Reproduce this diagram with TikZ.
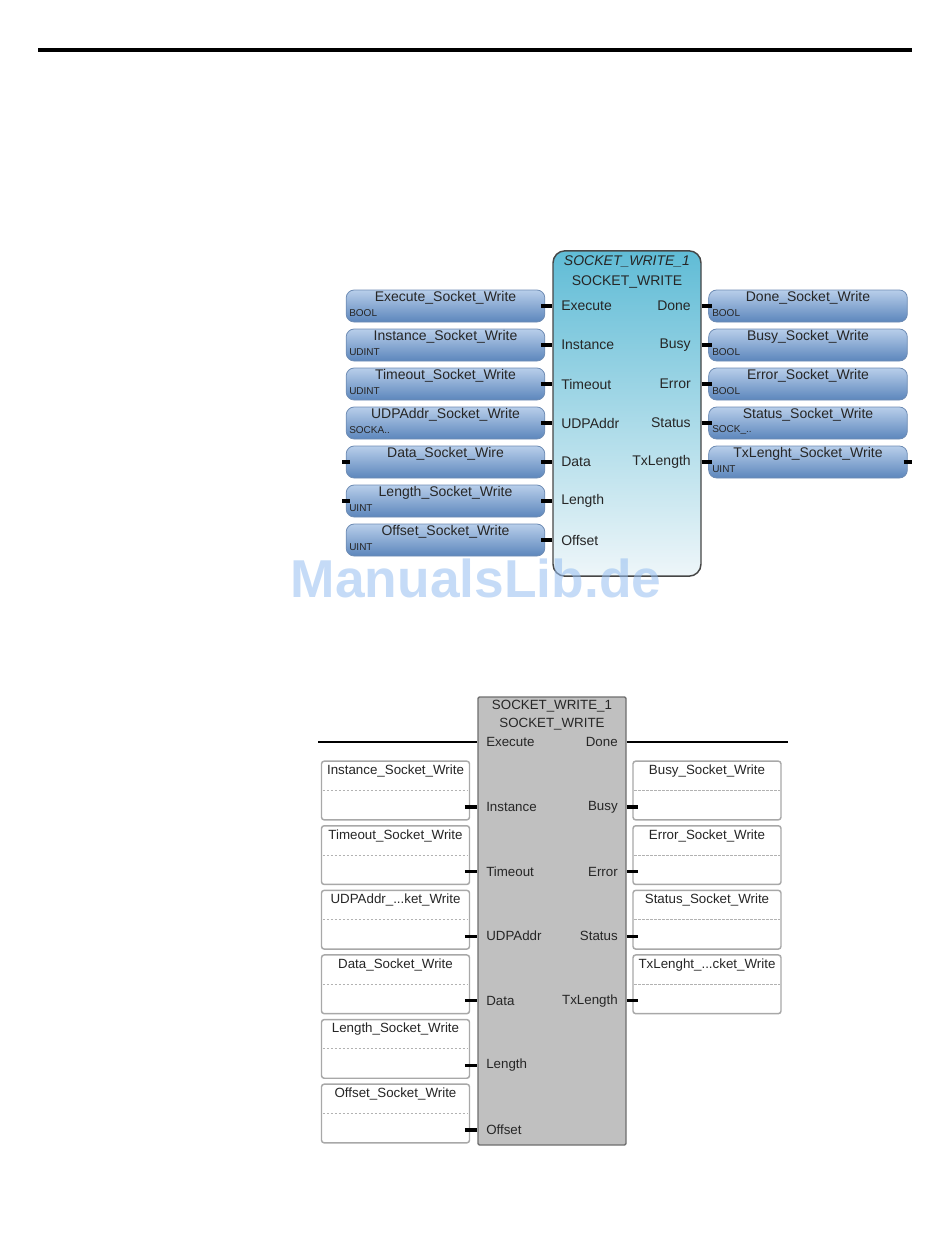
\documentclass[tikz,border=0pt]{standalone}
\usepackage{fontspec}
\setmainfont{Liberation Sans}
\definecolor{uvtop}{RGB}{184,206,234}
\definecolor{uvbot}{RGB}{92,134,188}
\definecolor{uvdraw}{RGB}{110,140,180}
\definecolor{mtop}{RGB}{96,188,214}
\definecolor{mbot}{RGB}{238,246,249}
\definecolor{mdraw}{RGB}{70,70,70}
\definecolor{lgray}{RGB}{192,192,192}
\definecolor{ldraw}{RGB}{110,110,110}
\definecolor{lvdraw}{RGB}{168,168,168}
\definecolor{wmark}{RGB}{150,190,240}
\newcommand\tdots{...}
\begin{document}
\begin{tikzpicture}[x=0.75pt,y=-0.75pt,
  uvar/.style={rectangle, rounded corners=6pt, top color=uvtop, bottom color=uvbot, draw=uvdraw, line width=0.6pt, minimum width=149pt, minimum height=24pt, inner sep=0pt},
  uname/.style={font=\fontsize{10.5}{12}\selectfont, inner sep=0pt, text=black!85},
  utype/.style={font=\fontsize{7.5}{8}\selectfont, inner sep=0pt, anchor=west, text=black!85},
  upin/.style={font=\fontsize{10.5}{12}\selectfont, inner sep=0pt, text=black!85},
  stub/.style={line width=2.3pt, black},
  lvar/.style={rectangle, rounded corners=2pt, fill=white, draw=lvdraw, line width=1.1pt, minimum width=111pt, minimum height=44pt, inner sep=0pt},
  lname/.style={font=\fontsize{10}{12}\selectfont, inner sep=0pt, text=black!85},
  lpin/.style={font=\fontsize{10}{12}\selectfont, inner sep=0pt, text=black!85},
  dline/.style={draw=black!30, line width=0.8pt, dash pattern=on 2pt off 1pt}]
\useasboundingbox (0,0) rectangle (950,1260);
% top rule
\coordinate (tl) at (38,50); \coordinate (tr) at (912,50);
\draw[line width=3pt] (tl) -- (tr);
% ===== upper block =====
\node[rectangle, rounded corners=9pt, top color=mtop, bottom color=mbot, draw=mdraw, line width=1.1pt, minimum width=111pt, minimum height=244pt, inner sep=0pt] (um) at (627,413.5) {};
\node[uname, font=\itshape\fontsize{10.5}{12}\selectfont] (ut1) at (627,261) {SOCKET\_WRITE\_1};
\node[uname] (ut2) at (627,282) {SOCKET\_WRITE};
\foreach \nm/\ty/\pn [count=\i] in {Execute\_Socket\_Write/BOOL/Execute, Instance\_Socket\_Write/UDINT/Instance, Timeout\_Socket\_Write/UDINT/Timeout, UDPAddr\_Socket\_Write/SOCKA../UDPAddr, Data\_Socket\_Wire//Data, Length\_Socket\_Write/UINT/Length, Offset\_Socket\_Write/UINT/Offset}{
  \pgfmathsetmacro\yy{306+39*(\i-1)}
  \node[uvar] (ulv\i) at (445.5,\yy) {};
  \node[uname] (ulvn\i) at (445.5,\yy-8) {\nm};
  \node[utype] (ulvt\i) at (349,\yy+7) {\ty};
  \node[upin, anchor=west] (ulp\i) at (561,\yy) {\pn};
  \draw[stub] ([xshift=-3pt]ulv\i.east) -- (ulv\i.east -| um.west);
}
\foreach \nm/\ty/\pn [count=\i] in {Done\_Socket\_Write/BOOL/Done, Busy\_Socket\_Write/BOOL/Busy, Error\_Socket\_Write/BOOL/Error, Status\_Socket\_Write/SOCK\_../Status, TxLenght\_Socket\_Write/UINT/TxLength}{
  \pgfmathsetmacro\yy{306+39*(\i-1)}
  \node[uvar] (urv\i) at (808,\yy) {};
  \node[uname] (urvn\i) at (808,\yy-8) {\nm};
  \node[utype] (urvt\i) at (712,\yy+7) {\ty};
  \node[upin, anchor=east] (urp\i) at (691,\yy) {\pn};
  \draw[stub] (um.east |- urv\i.west) -- ([xshift=3pt]urv\i.west);
}
\coordinate (dl) at (342,462); \coordinate (ll) at (342,501); \coordinate (tx) at (912,462);
\draw[stub] (dl) -- ([xshift=3pt]ulv5.west);
\draw[stub] (ll) -- ([xshift=3pt]ulv6.west);
\draw[stub] ([xshift=-3pt]urv5.east) -- (tx);
% ===== lower block =====
\node[rectangle, fill=lgray, draw=ldraw, line width=1.1pt, rounded corners=1pt, minimum width=111pt, minimum height=336pt, inner sep=0pt] (lm) at (552,921) {};
\node[lname] (lt1) at (552,706) {SOCKET\_WRITE\_1};
\node[lname] (lt2) at (552,724) {SOCKET\_WRITE};
\node[lpin, anchor=west] (lpe) at (486,742) {Execute};
\node[lpin, anchor=east] (lpd) at (618,742) {Done};
\coordinate (el) at (318,742); \coordinate (dr) at (788,742);
\draw[line width=1.5pt] (el) -- (el -| lm.west);
\draw[line width=1.5pt] (dr -| lm.east) -- (dr);
\foreach \nm/\pn [count=\i] in {Instance\_Socket\_Write/Instance, Timeout\_Socket\_Write/Timeout, UDPAddr\_\tdots ket\_Write/UDPAddr, Data\_Socket\_Write/Data, Length\_Socket\_Write/Length, Offset\_Socket\_Write/Offset}{
  \pgfmathsetmacro\yy{807+64.6*(\i-1)}
  \node[lvar] (llv\i) at (395.5,\yy-16.5) {};
  \node[lname] (llvn\i) at (395.5,\yy-36) {\nm};
  \draw[dline] ([xshift=1.5pt]llv\i.west) -- ([xshift=-1.5pt]llv\i.east);
  \node[lpin, anchor=west] (llp\i) at (486,\yy) {\pn};
  \draw[stub] ([xshift=-4pt]llv\i.east |- llp\i.west) -- (lm.west |- llp\i.west);
}
\foreach \nm/\pn [count=\i] in {Busy\_Socket\_Write/Busy, Error\_Socket\_Write/Error, Status\_Socket\_Write/Status, TxLenght\_\tdots cket\_Write/TxLength}{
  \pgfmathsetmacro\yy{807+64.6*(\i-1)}
  \node[lvar] (lrv\i) at (707,\yy-16.5) {};
  \node[lname] (lrvn\i) at (707,\yy-36) {\nm};
  \draw[dline] ([xshift=1.5pt]lrv\i.west) -- ([xshift=-1.5pt]lrv\i.east);
  \node[lpin, anchor=east] (lrp\i) at (618,\yy) {\pn};
  \draw[stub] (lm.east |- lrp\i.east) -- ([xshift=4pt]lrv\i.west |- lrp\i.east);
}
% watermark
\node[font=\bfseries\fontsize{40}{44}\selectfont, text=wmark, text opacity=0.55, inner sep=0pt] (wm) at (476,578) {ManualsLib.de};
\end{tikzpicture}
\end{document}
